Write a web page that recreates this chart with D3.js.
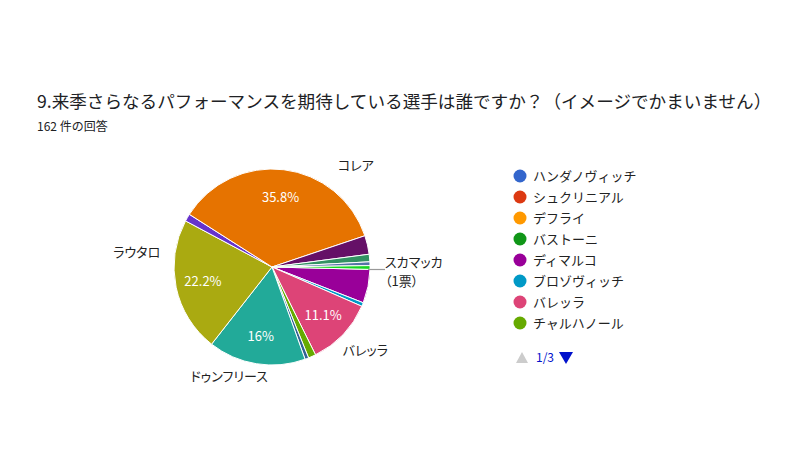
<!DOCTYPE html>
<html>
<head>
<meta charset="utf-8">
<script src="https://cdn.jsdelivr.net/npm/d3@7"></script>
<style>
  html, body { margin: 0; padding: 0; background: #ffffff; }
  svg { display: block; }
  text { font-family: "Noto Sans CJK JP", "Noto Sans", Arial, sans-serif; }
  .callout, .note { font-feature-settings: "palt" 1; }
</style>
</head>
<body>
<svg id="chart" width="800" height="450"></svg>
<script>
// ---- data ----
const titleText = "9.来季さらなるパフォーマンスを期待している選手は誰ですか？（イメージでかまいません）";
const subtitleText = "162 件の回答";
const players = [
  "ハンダノヴィッチ", "シュクリニアル", "デフライ", "バストーニ", "ディマルコ",
  "ブロゾヴィッチ", "バレッラ", "チャルハノール", "ペリシッチ", "ジェコ",
  "ヴィダル", "ドゥンフリース", "ラウタロ", "サンチェス", "コレア",
  "ダルミアン", "ゴセンス", "ガリアルディーニ", "カイセド", "ダンブロージオ",
  "ラノッキア", "スカマッカ", "ヴェシーノ", "コラロフ"
];
const votes = [
  0, 0, 0, 0, 9,
  1, 18, 2, 0, 1,
  0, 26, 36, 2, 58,
  0, 5, 2, 1, 0,
  0, 1, 0, 0
];
const palette = [
  "#3366cc", "#dc3912", "#ff9900", "#109618", "#990099",
  "#0099c6", "#dd4477", "#66aa00", "#b82e2e", "#316395",
  "#994499", "#22aa99", "#aaaa11", "#6633cc", "#e67300",
  "#8b0707", "#651067", "#329262", "#5574a6", "#3b3eac",
  "#b77322", "#16d620", "#b91383", "#f4359e"
];
const sliceTextPlayers = ["コレア", "ラウタロ", "ドゥンフリース", "バレッラ"];
const calloutPlayers = ["コレア", "ラウタロ", "ドゥンフリース", "バレッラ"];
const noteLabel = ["スカマッカ", "（1票）"];
const legendPageText = "1/3";
const legendPageSize = 8;

// ---- layout ----
const svg = d3.select("#chart");
const cx = 272, cy = 267, R = 98;
const startDeg = 91.4;

const data = players.map((p, i) => ({ name: p, value: votes[i], color: palette[i] }));
const total = d3.sum(votes);

svg.append("text")
  .attr("x", 37).attr("y", 108)
  .attr("font-size", 17.6)
  .attr("fill", "#202124")
  .text(titleText);

svg.append("text")
  .attr("x", 37).attr("y", 131)
  .attr("font-size", 12)
  .attr("fill", "#202124")
  .text(subtitleText);

const pie = d3.pie()
  .sort(null)
  .value(d => d.value)
  .startAngle(startDeg * Math.PI / 180)
  .endAngle(startDeg * Math.PI / 180 + 2 * Math.PI);

const arcs = pie(data);
const arc = d3.arc().innerRadius(0).outerRadius(R);

const g = svg.append("g").attr("transform", `translate(${cx},${cy})`);

g.selectAll("path.slice")
  .data(arcs.filter(a => a.data.value > 0))
  .join("path")
  .attr("class", "slice")
  .attr("d", arc)
  .attr("fill", d => d.data.color)
  .attr("stroke", "#ffffff")
  .attr("stroke-width", 1)
  .attr("stroke-linejoin", "round");

// percentage text inside slices
const labelArc = d3.arc().innerRadius(R * 0.72).outerRadius(R * 0.72);
const fmt = v => {
  const p = v / total * 100;
  const r = Math.round(p * 10) / 10;
  return (Number.isInteger(r) ? r.toFixed(0) : r.toFixed(1)) + "%";
};
g.selectAll("text.pct")
  .data(arcs.filter(a => sliceTextPlayers.includes(a.data.name)))
  .join("text")
  .attr("class", "pct")
  .attr("transform", d => `translate(${labelArc.centroid(d)})`)
  .attr("text-anchor", "middle")
  .attr("dy", "0.36em")
  .attr("font-family", "Arial, 'Liberation Sans', sans-serif")
  .attr("font-size", 13)
  .attr("fill", "#ffffff")
  .text(d => fmt(d.data.value));

// callout names outside the pie (angle deg, radius)
const calloutPlace = {
  "コレア": [39.5, 132],
  "ラウタロ": [276, 136],
  "ドゥンフリース": [201.5, 117],
  "バレッラ": [131.7, 125]
};
g.selectAll("text.callout")
  .data(arcs.filter(a => calloutPlayers.includes(a.data.name)))
  .join("text")
  .attr("class", "callout")
  .attr("x", d => Math.sin(calloutPlace[d.data.name][0] * Math.PI / 180) * calloutPlace[d.data.name][1])
  .attr("y", d => -Math.cos(calloutPlace[d.data.name][0] * Math.PI / 180) * calloutPlace[d.data.name][1])
  .attr("text-anchor", "middle")
  .attr("dy", "0.36em")
  .attr("font-size", 13)
  .attr("fill", "#222222")
  .text(d => d.data.name);

// note for the 1-vote slice
const noteSlice = arcs.find(a => a.data.name === noteLabel[0]);
const noteAng = (noteSlice.startAngle + noteSlice.endAngle) / 2;
const p0 = [Math.sin(noteAng) * R, -Math.cos(noteAng) * R];
g.append("line")
  .attr("x1", p0[0] - 2).attr("y1", p0[1] + 2)
  .attr("x2", p0[0] + 15).attr("y2", p0[1] + 2)
  .attr("stroke", "#999999").attr("stroke-width", 1.2);
g.append("text")
  .attr("class", "note")
  .attr("x", p0[0] + 15).attr("y", p0[1] - 1)
  .attr("font-size", 13).attr("fill", "#222222")
  .text(noteLabel[0]);
g.append("text")
  .attr("class", "note")
  .attr("x", p0[0] + 15).attr("y", p0[1] + 19)
  .attr("font-size", 13).attr("fill", "#222222")
  .text(noteLabel[1]);

// legend
const legend = svg.append("g").attr("transform", "translate(520,176)");
const legendItems = data.slice(0, legendPageSize);
const ly = d3.scalePoint().domain(legendItems.map(d => d.name)).range([0, 147]);
const li = legend.selectAll("g.item").data(legendItems).join("g")
  .attr("class", "item")
  .attr("transform", d => `translate(0,${ly(d.name)})`);
li.append("circle").attr("r", 6.5).attr("fill", d => d.color);
li.append("text").attr("x", 13).attr("dy", "0.36em")
  .attr("font-size", 13).attr("fill", "#222222")
  .text(d => d.name);

// pager
const pager = svg.append("g").attr("transform", "translate(522,358)");
pager.append("path").attr("d", "M-6,5 L6,5 L0,-6 Z").attr("fill", "#cccccc");
pager.append("text").attr("x", 14).attr("dy", "0.36em")
  .attr("font-family", "Arial, 'Liberation Sans', sans-serif")
  .attr("font-size", 12).attr("fill", "#0011cc").text(legendPageText);
pager.append("path").attr("d", "M37,-6 L51,-6 L44,6 Z").attr("fill", "#0011cc");
</script>
</body>
</html>
